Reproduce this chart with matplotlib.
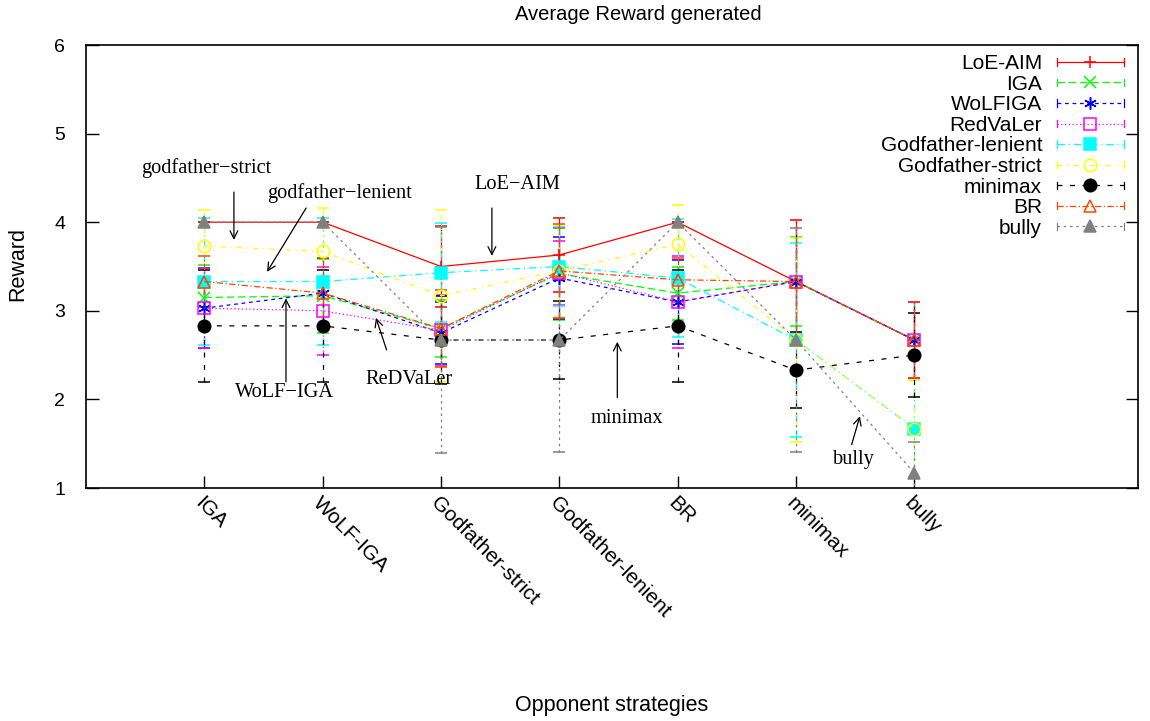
import matplotlib
matplotlib.use("Agg")
import matplotlib.pyplot as plt
from matplotlib.lines import Line2D
from matplotlib.legend_handler import HandlerLine2D

categories = ['IGA', 'WoLF-IGA', 'Godfather-strict', 'Godfather-lenient', 'BR', 'minimax', 'bully']

loe_aim = [4.0, 4.0, 3.5, 3.63, 4.0, 3.33, 2.67]
loe_aim_err = [0.0, 0.0, 0.46, 0.42, 0.0, 0.69, 0.43]
iga = [3.15, 3.17, 2.8, 3.42, 3.2, 3.33, 2.67]
iga_err = [0.37, 0.42, 0.32, 0.52, 0.3, 0.5, 0.43]
wolfiga = [3.03, 3.2, 2.75, 3.37, 3.1, 3.33, 2.67]
wolfiga_err = [0.45, 0.4, 0.35, 0.46, 0.47, 0.69, 0.43]
redvaler = [3.03, 3.0, 2.78, 3.43, 3.1, 3.33, 2.67]
redvaler_err = [0.45, 0.5, 0.4, 0.36, 0.52, 0.69, 0.43]
gf_lenient = [3.33, 3.33, 3.43, 3.5, 3.37, 2.67, 1.67]
gf_lenient_err = [0.72, 0.72, 0.56, 0.45, 0.67, 1.1, 0.55]
gf_strict = [3.73, 3.67, 3.17, 3.45, 3.75, 2.67, 1.67]
gf_strict_err = [0.41, 0.49, 0.97, 0.52, 0.44, 1.15, 0.55]
minimax = [2.83, 2.83, 2.67, 2.67, 2.83, 2.33, 2.5]
minimax_err = [0.63, 0.63, 0.5, 0.44, 0.63, 0.43, 0.47]
br = [3.33, 3.2, 2.8, 3.45, 3.35, 3.33, 2.67]
br_err = [0.29, 0.4, 0.43, 0.53, 0.25, 0.69, 0.43]
bully = [4.0, 4.0, 2.67, 2.67, 4.0, 2.67, 1.17]
bully_err = [0.0, 0.0, 1.28, 1.26, 0.0, 1.26, 0.35]

series = [
    ('LoE-AIM', loe_aim, loe_aim_err, '#ff0000', '-', '+', None),
    ('IGA', iga, iga_err, '#00ff00', (0, (6, 3)), 'x', None),
    ('WoLFIGA', wolfiga, wolfiga_err, '#0000ff', (0, (3, 3)), (6, 2, 0), None),
    ('RedVaLer', redvaler, redvaler_err, '#ff00ff', (0, (1, 2)), 's', 'none'),
    ('Godfather-lenient', gf_lenient, gf_lenient_err, '#00ffff', (0, (6, 3, 1, 3)), 's', None),
    ('Godfather-strict', gf_strict, gf_strict_err, '#ffff00', (0, (4, 4, 1, 4)), 'o', 'none'),
    ('minimax', minimax, minimax_err, '#000000', (0, (4, 6)), 'o', None),
    ('BR', br, br_err, '#ff4500', (0, (5, 2, 1, 2)), '^', 'none'),
    ('bully', bully, bully_err, '#808080', (0, (2, 3)), '^', None),
]

fig = plt.figure(figsize=(11.5, 7.21), dpi=100)
ax = fig.add_axes([86 / 1150, 1 - 488 / 721, (1138 - 86) / 1150, (488 - 45) / 721])

x = list(range(1, len(categories) + 1))
handles = []
for name, vals, errs, col, ls, mk, mfc in series:
    line, caps, bars = ax.errorbar(x, vals, yerr=errs, color=col, linestyle=ls, lw=0.9,
                                   marker=mk, ms=9, mfc=(mfc if mfc else col), mec=col,
                                   mew=1.1, capsize=4.5, elinewidth=0.9, capthick=0.9)
    for b in bars:
        b.set_linestyle(ls)
    handles.append(Line2D([], [], color=col, linestyle=ls, lw=0.9, marker=mk, ms=9,
                          mfc=(mfc if mfc else col), mec=col, mew=1.1, label=name))


class CapHandler(HandlerLine2D):
    def create_artists(self, legend, orig_handle, xdescent, ydescent, width, height, fontsize, trans):
        artists = super().create_artists(legend, orig_handle, xdescent, ydescent, width, height, fontsize, trans)
        yc = height / 2.0 - ydescent
        ch = height * 0.5
        for xx in (-xdescent, -xdescent + width):
            cap = Line2D([xx, xx], [yc - ch / 2, yc + ch / 2], color=orig_handle.get_color(), lw=0.9)
            cap.set_transform(trans)
            artists.append(cap)
        return artists


leg = ax.legend(handles=handles, loc='upper right', bbox_to_anchor=(0.9885, 0.984), frameon=False,
                markerfirst=False, numpoints=1, handlelength=3.2, handletextpad=0.72,
                labelspacing=0.075, borderaxespad=0, borderpad=0.1,
                prop={'family': 'Liberation Sans', 'size': 15},
                handler_map={Line2D: CapHandler()})
for t in leg.get_texts():
    t.set_ha('right')

ax.set_xlim(0, 8.89)
ax.set_ylim(1, 6)
ax.set_yticks([1, 2, 3, 4, 5, 6])
ax.set_xticks(x)
ax.set_xticklabels(categories, rotation=-45, ha='left', va='top', rotation_mode='anchor',
                   family='Liberation Sans', fontsize=15)
for lab in ax.get_yticklabels():
    lab.set_family('Liberation Sans')
    lab.set_fontsize(14)
ax.tick_params(axis='y', direction='in', length=9, width=1, right=True, pad=15)
ax.tick_params(axis='x', direction='in', length=9, width=1, top=False, pad=4)
for s in ax.spines.values():
    s.set_linewidth(1.2)

fig.text(638 / 1150, 1 - 15 / 721, 'Average Reward generated', ha='center', va='center',
         family='Liberation Sans', fontsize=14.5)
fig.text(612 / 1150, 1 - 705 / 721, 'Opponent strategies', ha='center', va='center',
         family='Liberation Sans', fontsize=15.5)
fig.text(18 / 1150, 1 - 264 / 721, 'Reward', ha='center', va='center', rotation=90,
         family='Liberation Sans', fontsize=15.5)

notes = [
    ('godfather\u2212strict', (1.02, 4.61), (1.25, 4.34), (1.25, 3.80)),
    ('godfather\u2212lenient', (2.14, 4.33), (1.86, 4.16), (1.53, 3.44)),
    ('LoE\u2212AIM', (3.645, 4.42), (3.43, 4.16), (3.43, 3.62)),
    ('WoLF\u2212IGA', (1.68, 2.08), (1.69, 2.20), (1.69, 3.14)),
    ('ReDVaLer', (2.73, 2.22), (2.54, 2.56), (2.45, 2.92)),
    ('minimax', (4.57, 1.79), (4.49, 2.02), (4.49, 2.65)),
    ('bully', (6.49, 1.32), (6.47, 1.49), (6.54, 1.81)),
]
for txt, tpos, tail, head in notes:
    ax.text(tpos[0], tpos[1], txt, ha='center', va='center', family='Liberation Serif', fontsize=14.7)
    ax.annotate('', xy=head, xytext=tail,
                arrowprops=dict(arrowstyle='->', color='black', lw=0.9, shrinkA=0, shrinkB=0,
                                mutation_scale=14))

fig.savefig('out.png', dpi=100)
